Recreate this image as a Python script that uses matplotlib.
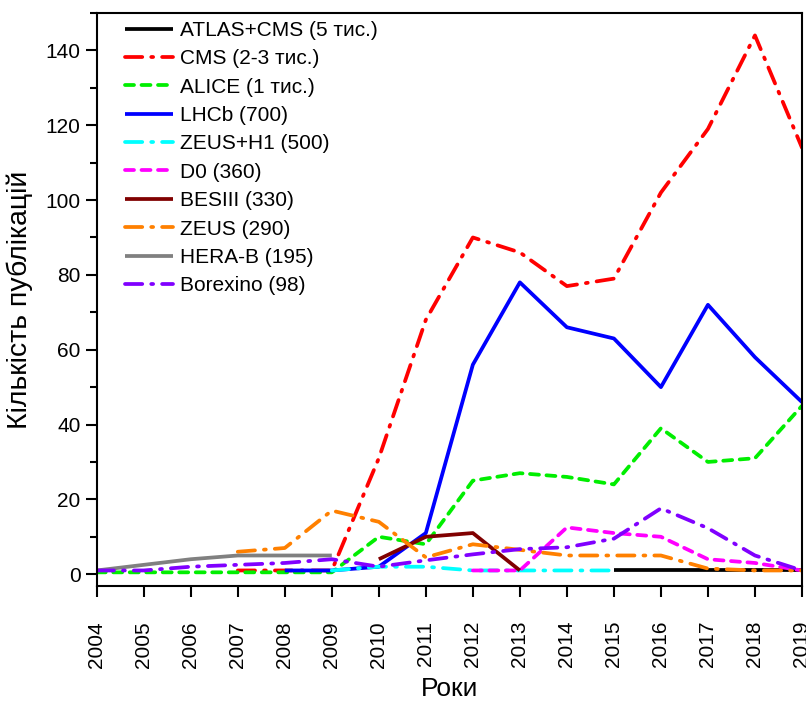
import matplotlib
matplotlib.use("Agg")
import matplotlib.pyplot as plt
from matplotlib.ticker import MultipleLocator

plt.rcParams['font.family'] = ['Liberation Sans', 'DejaVu Sans']

years_all = list(range(2004, 2020))

atlas_cms_years = [2015, 2016, 2017, 2018, 2019]
atlas_cms = [1, 1, 1, 1, 1]

cms_years = list(range(2007, 2020))
cms = [1, 1, 1, 31, 68, 90, 86, 77, 79, 102, 119, 144, 114]

alice_years = years_all
alice = [0.5, 0.5, 0.5, 0.5, 0.5, 0.5, 10, 8, 25, 27, 26, 24, 39, 30, 31, 45]

lhcb_years = list(range(2008, 2020))
lhcb = [1, 1, 2, 11, 56, 78, 66, 63, 50, 72, 58, 46]

zeush1_years = list(range(2009, 2016))
zeush1 = [1, 2, 2, 1, 1, 1, 1]

d0_years = list(range(2012, 2020))
d0 = [1, 1, 12.5, 11, 10, 4, 3, 1]

besiii_years = [2010, 2011, 2012, 2013]
besiii = [4, 10, 11, 1]

zeus_years = list(range(2007, 2020))
zeus = [6, 7, 17, 14, 4.5, 8, 6.5, 5, 5, 5, 1.5, 1, 1]

herab_years = list(range(2004, 2010))
herab = [1, 2.5, 4, 5, 5, 5]

borexino_years = years_all
borexino = [1, 1, 2, 2.5, 3, 4, 2, 3.7, 5.3, 6.7, 7.2, 9.5, 17.6, 12.3, 5, 1]

labels = ["ATLAS+CMS (5 тис.)", "CMS (2-3 тис.)", "ALICE (1 тис.)", "LHCb (700)",
          "ZEUS+H1 (500)", "D0 (360)", "BESIII (330)", "ZEUS (290)",
          "HERA-B (195)", "Borexino (98)"]

dashdot = (0, (4.6, 2.4, 0.5, 2.4))
dashed = (0, (2.4, 2.0))

series = [
    (atlas_cms_years, atlas_cms, "#000000", "-"),
    (cms_years, cms, "#FF0000", dashdot),
    (alice_years, alice, "#00EE00", dashed),
    (lhcb_years, lhcb, "#0000FF", "-"),
    (zeush1_years, zeush1, "#00FFFF", dashdot),
    (d0_years, d0, "#FF00FF", dashed),
    (besiii_years, besiii, "#800000", "-"),
    (zeus_years, zeus, "#FF8000", dashdot),
    (herab_years, herab, "#808080", "-"),
    (borexino_years, borexino, "#8000FF", dashdot),
]

fig = plt.figure(figsize=(8.06, 7.02), dpi=100)
ax = fig.add_axes([0.120, 0.165, 0.875, 0.8165])

for (xs, ys, c, ls), lab in zip(series, labels):
    ax.plot(xs, ys, color=c, linestyle=ls, linewidth=2.7, label=lab,
            dash_capstyle='round', solid_capstyle='butt')

ax.set_xlim(2004, 2019)
ax.set_ylim(-3.2, 150)
ax.set_xticks(years_all)
ax.set_xticklabels([str(y) for y in years_all], rotation=90)
ax.yaxis.set_major_locator(MultipleLocator(20))
ax.yaxis.set_minor_locator(MultipleLocator(10))
ax.tick_params(axis='both', which='major', direction='out', length=8, width=1.5, labelsize=15)
ax.tick_params(axis='x', which='major', pad=17)
ax.tick_params(axis='y', which='minor', direction='out', length=5, width=1.5)
for sp in ax.spines.values():
    sp.set_linewidth(1.5)

ax.set_xlabel("Роки", fontsize=19, labelpad=7)
ax.set_ylabel("Кількість публікацій", fontsize=20.5, labelpad=9)

leg = ax.legend(loc='upper left', bbox_to_anchor=(0.022, 1.008), frameon=False,
                fontsize=15, handlelength=2.3, handletextpad=0.35,
                labelspacing=0.45, borderaxespad=0.2)

fig.savefig("out.png", dpi=100)
